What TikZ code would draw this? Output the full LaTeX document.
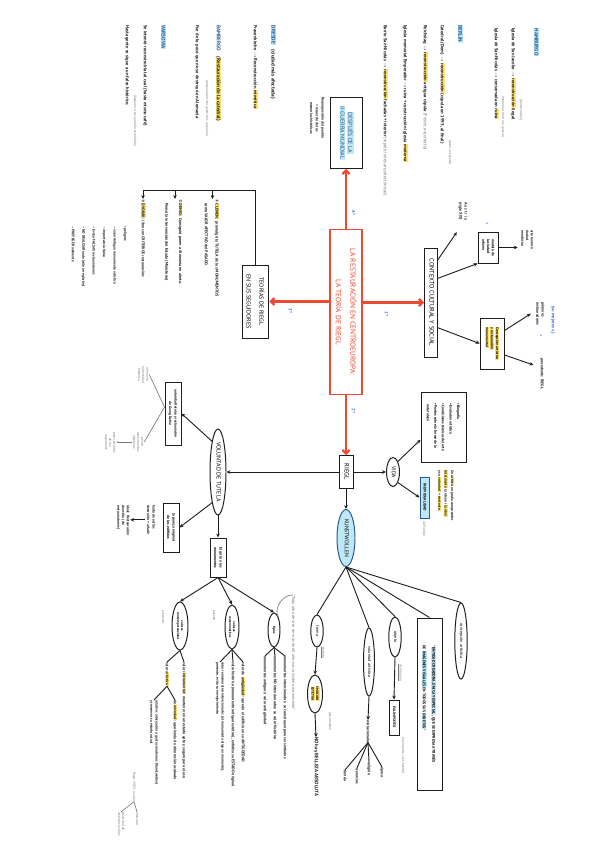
\documentclass[tikz,border=0pt]{standalone}
\usepackage{fontspec}
\setmainfont{PT Sans}
\newfontfamily\djv{DejaVu Sans}
\usepackage{graphicx}
\usetikzlibrary{arrows.meta,shapes.geometric,calc}
\definecolor{hlY}{RGB}{255,226,110}
\definecolor{hlC}{RGB}{190,232,246}
\definecolor{redc}{RGB}{236,72,50}
\definecolor{bluec}{RGB}{60,110,230}
\definecolor{ttl}{RGB}{40,90,150}
\definecolor{ink}{RGB}{30,30,30}
\definecolor{gry}{RGB}{120,120,120}
\newcommand\RT[2][l]{\rotatebox{-90}{\begin{tabular}{@{}#1@{}}#2\end{tabular}}}
\newcommand\hly[1]{{\setlength\fboxsep{0.5pt}\colorbox{hlY}{#1}}}
\newcommand\hlc[1]{{\setlength\fboxsep{0.8pt}\colorbox{hlC}{#1}}}
\newcommand\toa{\ensuremath{\rightarrow}}
\renewcommand\arraystretch{0.9}
\begin{document}
\begin{tikzpicture}[x=0.05cm, y=-0.05cm,
  tx/.style={inner sep=0pt, font=\fontsize{6.6}{8}\selectfont\bfseries, text=ink},
  sm/.style={inner sep=0pt, font=\fontsize{5.6}{8}\selectfont\bfseries, text=ink},
  nt/.style={inner sep=0pt, font=\fontsize{5}{6.5}\selectfont, text=gry},
  cityt/.style={inner sep=0pt, font=\fontsize{7.5}{9}\selectfont\bfseries, text=ttl},
  bx/.style={draw=ink, line width=1.4pt, inner sep=1pt},
  el/.style={ellipse, draw=ink, line width=1.4pt, inner sep=0.5pt},
  ar/.style={draw=ink, line width=1.3pt, -{Stealth[length=5.5pt,width=5pt]}},
  ln/.style={draw=ink, line width=1.3pt},
  gl/.style={draw=gry, line width=0.9pt},
  ra/.style={draw=redc, line width=3.2pt, -{Straight Barb[length=5pt,width=10pt]}},
  num/.style={inner sep=0pt, font=\fontsize{6.5}{8}\selectfont\bfseries, text=bluec}]
\path[use as bounding box, fill=white] (0,0) rectangle (600,848);

% ---------- top right: cities ----------
\node[cityt, anchor=north] (hamb) at (536,28) {\RT{\hlc{HAMBURGO}}};
\node[tx, anchor=north] (h1) at (513,28) {\RT{Iglesia de San Jacobo \toa{} \hly{reconstrucción} ilegal}};
\node[nt, anchor=north] (h1n) at (521,99) {\RT{(conservación)}};
\node[tx, anchor=north] (h2) at (496,28) {\RT{Iglesia de San Nicolás \toa{} conservada en \hly{ruina}}};
\node[nt, anchor=north] (h2n) at (503,96) {\RT{(memorial contra la guerra)}};
\node[cityt, anchor=north] (berl) at (460,25) {\RT{\hlc{BERLÍN}}};
\node[tx, anchor=north] (b1) at (442,25) {\RT{Catedral (Dom) \toa{} \hly{reconstrucción} (cúpula en 1993, al final)}};
\node[nt, anchor=north] (b1n) at (450,140) {\RT{(antes, arrasada)}};
\node[tx, anchor=north] (b2) at (425,25) {\RT{Reichstag \toa{} \hly{reconstrucción} antigua cúpula \textcolor{gry}{\mdseries(Foster, arquitecto)}}};
\node[tx, anchor=north] (b3) at (405,25) {\RT{Iglesia memorial Emperador \toa{} ruina + construcción iglesia \hly{moderna}}};
\node[tx, anchor=north] (b4) at (385,25) {\RT{Barrio San Nicolás \toa{} \hly{reconstrucción} fachadas + interior \textcolor{gry}{\mdseries(repeticiones arquitectónicas)}}};

% ---------- DESPUES box ----------
\node[bx, minimum width=1.6cm, minimum height=3.55cm, text=ttl, font=\fontsize{8.5}{12}\selectfont] (desp) at (346,133) {\RT[c]{\hlc{DESPUÉS DE LA}\\\hlc{II GUERRA MUNDIAL}}};
\node[sm, anchor=north, font=\fontsize{5.3}{9}\selectfont\bfseries] (despn) at (317,97) {\RT[c]{Recomposición del pueblo\\+ recuerdo de los\\memorias históricas}};

% ---------- left top: cities ----------
\node[cityt, anchor=north] (dres) at (273,25) {\RT{\hlc{DRESDE}\quad\textcolor{ink}{(ciudad más afectada)}}};
\node[tx, anchor=north] (d1) at (255,25) {\RT{Frauenkirche \toa{} Reconstrucción \hly{mimética}}};
\node[cityt, anchor=north] (bamb) at (218,25) {\RT{BAMBERGO\quad\textcolor{ink}{(\hly{Restauración de la catedral})}}};
\node[nt, anchor=north] (bambn) at (207,80) {\RT{(restauración del gusto tras la guerra)}};
\node[tx, anchor=north] (bm1) at (197,25) {\RT{Fue de lo poco que no se destruyó en Alemania}};
\node[cityt, anchor=north] (vars) at (163,25) {\RT{\hlc{VARSOVIA}}};
\node[tx, anchor=north] (v1) at (145,25) {\RT{Se intentó reconstruirla tal cual (hasta mismo café)}};
\node[nt, anchor=north] (v1n) at (135,95) {\RT{(llegaron a ser pueblo reconocido)}};
\node[tx, anchor=north] (v2) at (127,25) {\RT{Hasta gente se sigue a un falso histórico.}};

% ---------- centre ----------
\node[draw=redc, line width=1.5pt, minimum width=1.6cm, minimum height=8.25cm, inner sep=2pt, text=redc, font=\fontsize{10.5}{23}\selectfont] (cen) at (346,312) {\RT[c]{LA RESTAURACIÓN EN CENTROEUROPA:\\LA TEORÍA DE RIEGL}};

\node[bx, minimum width=0.65cm, minimum height=5.45cm, font=\fontsize{9}{10}\selectfont] (ctx) at (431,302.5) {\RT{CONTEXTO CULTURAL Y SOCIAL}};
\node[bx, minimum width=1.25cm, minimum height=3.65cm, font=\fontsize{8.5}{20}\selectfont] (teo) at (255.5,301.5) {\RT[c]{TEORÍAS DE RIEGL\\EN SUS SEGUIDORES}};
\node[bx, minimum width=0.7cm, minimum height=1.65cm, font=\fontsize{9}{10}\selectfont] (riegl) at (346,472) {\RT{RIEGL}};

\draw[ra] (cen.north) -- (cen.north |- desp.south);
\draw[ra] (ctx.west -| cen.east) -- (ctx.west);
\draw[ra] (cen.south) -- (riegl.north);
\draw[ra] (teo.east -| cen.west) -- (teo.east);
\node[num] (n4) at (353,213) {\RT{4°}};
\node[num] (n1) at (386,314) {\RT{1°}};
\node[num] (n2) at (353,411) {\RT{2°}};
\node[num] (n3) at (290,311) {\RT{3°}};

% ---------- CONTEXTO branches ----------
\node[sm, anchor=north] (aus) at (463,202) {\RT{A u s t r i a\\(siglo XIX)}};
\draw[ar] ($(ctx.north east)!0.11!(ctx.south east)$) -- ($(aus.south west)+(-1,12)$);
\node[bx, minimum width=1.0cm, minimum height=1.55cm, font=\fontsize{5.3}{7.5}\selectfont\bfseries] (mb) at (488,247.5) {\RT{modelo de\\la ciudad\\urbana}};
\draw[ar] ($(ctx.north east)!0.28!(ctx.south east)$) -- (mb.south west);
\node[num, font=\fontsize{9}{9}\selectfont] (st1) at (487,225) {*};
\node[sm, anchor=north, font=\fontsize{5.3}{7.5}\selectfont\bfseries] (mbt) at (527,230) {\RT{arte barroco\\ciudad\\neoclásica}};
\draw[ar] (mb.east) -- ($(mb.east -| mbt.west)+(-2,0)$);
\node[bx, minimum width=1.2cm, minimum height=2.55cm, font=\fontsize{5.3}{8}\selectfont\bfseries] (concb) at (492,343.5) {\RT{\hly{Concepción artística}\\\hly{y restauración}\\\hly{monumental}}};
\draw[ar] ($(ctx.north east)!0.73!(ctx.south east)$) -- (concb.west);
\node[sm, anchor=north] (prim) at (540,302) {\RT{primeros\\restauradores}};
\node[num, anchor=north] (su) at (553,306) {\RT{(su mejores s.)}};
\node[num, font=\fontsize{9}{9}\selectfont] (st2) at (541,337) {*};
\draw[ar] ($(concb.north east)!0.25!(concb.south east)$) -- ($(prim.west)+(-4,0)$);
\node[sm, anchor=north] (prec) at (542,358) {\RT{precedente: RIEGL}};
\draw[ar] ($(concb.north east)!0.72!(concb.south east)$) -- ($(prec.north west)+(-6,7)$);

% ---------- VIDA ----------
\node[el, minimum width=0.65cm, minimum height=1.45cm, font=\fontsize{8}{9}\selectfont] (vida) at (393,472) {\RT{VIDA}};
\draw[ar] (riegl.east) -- (riegl.east -| vida.west);
\node[bx, minimum width=2.25cm, minimum height=3.5cm, font=\fontsize{5.2}{12}\selectfont\bfseries] (listb) at (443.5,427) {\RT{• Biografía\\• Evolución artística\\• Condiciones técnicas del arte\\• Puntos sobre la forma de la\\\ \ naturaleza}};
\draw[ar] (vida.north east) -- ($(listb.north west)!0.68!(listb.south west)$);
\node[draw=ttl, fill=hlC, line width=1.3pt, inner sep=1pt, minimum width=0.45cm, minimum height=2.05cm, font=\fontsize{5.3}{6}\selectfont\bfseries] (indiv) at (424.5,497.5) {\RT{INDIVIDUALIDAD}};
\draw[ar] (vida.south east) -- (indiv.west);
\node[nt, anchor=north] (fied) at (424,521) {\RT{de Fiedler}};
\node[sm, anchor=north, font=\fontsize{5.3}{10.2}\selectfont\bfseries] (indt) at (446,470) {\RT{Un \hly{artista} no podía comprender\\\hly{totalmente} la idea ni \hly{la obra}\\y su \hly{voluntad} + \hly{contexto}.}};

% ---------- KUNSTWOLLEN ----------
\node[el, fill=hlC, draw=ttl, minimum width=0.9cm, minimum height=2.85cm, font=\fontsize{8}{9}\selectfont] (kw) at (346,538) {\RT{KUNSTWOLLEN}};
\draw[ar] (riegl.south) -- (kw.north);
\node[el, minimum width=0.62cm, minimum height=1.6cm, font=\fontsize{6}{7}\selectfont] (forma) at (317,631) {\RT{forma}};
\node[el, minimum width=0.55cm, minimum height=3.4cm, font=\fontsize{6}{7}\selectfont] (vart) at (369,662) {\RT{voluntad artística}};
\node[el, minimum width=0.62cm, minimum height=2cm, font=\fontsize{6}{7}\selectfont] (obj) at (395,637) {\RT{objeto}};
\node[bx, minimum width=1.25cm, minimum height=8.6cm, font=\fontsize{5.5}{15}\selectfont\bfseries] (quote) at (429.5,704) {\RT{“\hlc{ENTIDAD CREADORA, ÚNICA Y ESPECIAL}, QUE SE EXPRESA A TRAVÉS\\DE \hlc{IMÁGENES VISUALES} EN TODOS SUS \hlc{OBJETOS}”}};
\node[el, minimum width=0.62cm, minimum height=3.8cm, font=\fontsize{6}{7}\selectfont] (cart) at (461,641) {\RT{concepción artística}};
\foreach \t in {forma,vart,obj,quote,cart} \draw[ln] (kw.south) -- (\t.north);

\node[el, minimum width=0.75cm, minimum height=1.9cm, font=\fontsize{4.8}{6.5}\selectfont\bfseries] (emo) at (315,694) {\RT[c]{\hly{EMOCIÓN}\\\hly{ESTÉTICA}}};
\draw[ar] (forma.south) -- (emo.north);
\node[nt, anchor=north] (sent) at (323,647) {\RT{\underline{sentido}}};
\node[inner sep=0pt, text=ink, font=\fontsize{7}{8}\selectfont\bfseries, anchor=north] (nobel) at (316,737) {\RT{NO hay BELLEZA ABSOLUTA}};
\draw[ar] (emo.south) -- (nobel.north);
\node[nt, anchor=north] (obs) at (330,712) {\RT{(observador)}};
\node[nt, anchor=north, font=\fontsize{6}{7}\selectfont] (sesenta) at (293,595) {\RT{“Toda obra de arte de más de 60 años se considera monumento”}};

\node[sm, anchor=north] (evol) at (368,720) {\RT{evolucionada}};
\draw[ar] (vart.south) -- (evol.north);
\node[sm, anchor=north] (epoca) at (382,767) {\RT{época}};
\node[sm, anchor=north] (relig) at (369,762) {\RT{religión}};
\node[sm, anchor=north] (creen) at (357,768) {\RT{creencias}};
\node[sm, anchor=north] (cienc) at (345,770) {\RT{ciencia}};
\foreach \t in {epoca,relig,creen,cienc} \draw[ln] (evol.south) -- (\t.north);

\node[bx, minimum width=0.5cm, minimum height=1.75cm, font=\fontsize{5}{6}\selectfont\bfseries] (pal) at (394,717.5) {\RT{PALIMPSESTO}};
\draw[ar] (obj.south) -- (pal.north);
\node[nt, anchor=north] (objn) at (400,664) {\RT{\underline{visible para}}};
\node[nt, anchor=north] (objn2) at (403,737) {\RT{(no importa si es bonito)}};

% ---------- VOLUNTAD DE TUTELA ----------
\node[el, minimum width=0.8cm, minimum height=4.3cm, font=\fontsize{8.5}{10}\selectfont] (vol) at (218,472) {\RT{VOLUNTAD DE TUTELA}};
\draw[ar] (riegl.west) -- (riegl.west -| vol.east);
\node[bx, minimum width=0.8cm, minimum height=3.15cm, font=\fontsize{5}{9}\selectfont\bfseries] (aut) at (173,413.5) {\RT[c]{autoridad técnica y restauración\\de Georg Dehio}};
\draw[ar] (vol.north west) -- (aut.east);
\node[nt, anchor=north] (autn1) at (143,366) {\RT[c]{memoria\\e identidad\\histórica}};
\node[nt, anchor=north] (autn2) at (138,432) {\RT[c]{pensó\\monumentos\\objetivos}};
\node[nt, anchor=north] (autn3) at (110,432) {\RT[c]{para salvarlos\\de los\\regímenes}};
\draw[gl] ($(aut.north west)!0.4!(aut.south west)$) -- (autn1.east);
\draw[gl] ($(aut.north west)!0.4!(aut.south west)$) -- (autn2.east);
\draw[gl, -{Stealth[length=3pt]}] (autn2.west) -- (autn2.west -| autn3.east);

\node[bx, minimum width=0.8cm, minimum height=2.45cm, font=\fontsize{5.3}{9}\selectfont\bfseries] (pur) at (171,527.5) {\RT[c]{la pureza original\\de los edificios}};
\draw[ar] (vol.south west) -- (pur.east);
\node[sm, anchor=north, font=\fontsize{5.3}{9}\selectfont\bfseries] (purt) at (151,505) {\RT{hasta de estilo:\\destruirlo + añadir}};
\node[sm, anchor=north, font=\fontsize{5.3}{7.5}\selectfont\bfseries] (purt2) at (123,505) {\RT{ideal: Restauración\\de estilo (de\\restauraciones)}};
\draw[ar] (purt.west) -- (purt.west -| purt2.east);

\node[bx, minimum width=0.8cm, minimum height=1.95cm, font=\fontsize{5.3}{9}\selectfont\bfseries] (culto) at (218,557.5) {\RT[c]{El culto a los\\monumentos}};
\draw[ar] (vol.south) -- (culto.north);

\node[el, minimum width=0.8cm, minimum height=2.4cm, font=\fontsize{4.8}{6.5}\selectfont\bfseries] (vcon) at (180,626) {\RT[c]{valores\\contemporaneidad}};
\node[el, minimum width=0.7cm, minimum height=2.2cm, font=\fontsize{4.8}{6.5}\selectfont\bfseries] (vrem) at (232,627) {\RT[c]{valores\\rememorativos}};
\node[el, minimum width=0.6cm, minimum height=1.7cm, font=\fontsize{5}{6}\selectfont\bfseries] (tipos) at (274,630) {\RT{tipos}};
\draw[ar] (culto.south) -- (vcon.north);
\draw[ar] (culto.south) -- (vrem.north);
\draw[ar] (culto.south) -- (tipos.north);
\node[nt, anchor=north] (pres) at (163,610) {\RT{presente}};
\node[nt, anchor=north] (pas) at (214,610) {\RT{pasado}};
\draw[gl, -{Stealth[length=3pt]}] (sesenta.north) to[bend right=60] (tipos.north east);

\node[sm, anchor=north] (vc1) at (184,662) {\RT{valor \hly{instrumental}: mantener en un estado apto y seguro para el uso}};
\node[sm, anchor=north] (vc2) at (167,662) {\RT{valor \hly{artístico}}};
\draw[ln] (vcon.south) -- (vc1.north);
\draw[ln] (vcon.south) -- (vc2.north);
\node[sm, anchor=north] (vc21) at (175,700) {\RT{de \hly{novedad}: apariencia de obra recién acabada}};
\node[sm, anchor=north, font=\fontsize{5.2}{8}\selectfont\bfseries] (vc22) at (154,700) {\RT{relativo: adecuación a gustos modernos (Kunstwollen)\\y conservar su estado actual}};
\draw[ln] (vc2.south) -- (vc21.north);
\draw[ln] (vc2.south) -- (vc22.north);
\node[nt, anchor=north] (kr) at (134,772) {\RT{Riegl: 1903, a valor}};
\node[nt, anchor=north] (mer) at (137,812) {\RT{mercado}};
\node[nt, anchor=north] (exa) at (121,812) {\RT{exactitud de\\distintos estilos}};
\draw[gl] (kr.south) -- (mer.north);
\draw[gl] (kr.south) -- (exa.north);

\node[sm, anchor=north] (vr1) at (243,662) {\RT{valor de \hly{antigüedad}: aprecio el edificio en su ANTIGÜEDAD}};
\node[sm, anchor=north] (vr2) at (233,662) {\RT{valor histórico (monumento antiguo estético), enfatiza su ESTADO original}};
\node[sm, anchor=north, font=\fontsize{5.2}{8}\selectfont\bfseries] (vr3) at (220,662) {\RT{valor rememorativo intencionado: (el monumento elige un momento),\\presente, evita su envejecimiento}};
\draw[ln] (vrem.south) -- (vr1.north);
\draw[ln] (vrem.south) -- (vr2.north);
\draw[ln] (vrem.south) -- (vr3.north);

\node[sm, anchor=north] (tp1) at (285,656) {\RT{monumentos intencionados: se construyen para ser símbolos}};
\node[sm, anchor=north] (tp2) at (275,656) {\RT{monumentos NO intencionados: su valor histórico}};
\node[sm, anchor=north] (tp3) at (265,656) {\RT{monumentos antiguos: valor antigüedad}};
\draw[ln] (tipos.south) -- (tp1.north);
\draw[ln] (tipos.south) -- (tp2.north);
\draw[ln] (tipos.south) -- (tp3.north);

% ---------- TEORIAS followers ----------
\coordinate (brk) at ($(teo.north)+(0,-74)$);
\node[sm, anchor=north, font=\fontsize{5.8}{17}\selectfont\bfseries] (it1) at (212.5,199) {\RT{{\djv ①} \hly{CLEMEN}: promulgó la TUTELA de los MONUMENTOS\\\quad como VALOR AFECTIVO del PASADO.}};
\node[sm, anchor=north, font=\fontsize{5.8}{22}\selectfont\bfseries] (it2) at (175,199) {\RT{{\djv ②} \hly{DEHIO}: Consiguió poner a Alemania en alerta.\\\quad Pensó la intervención del Estado (Ministerio)}};
\node[sm, anchor=north] (it3) at (143,199) {\RT{{\djv ③} \hly{DVORÁK}: libro con CRITERIOS restauración:}};
\node[sm, anchor=north, font=\fontsize{5.2}{16.5}\selectfont\bfseries] (it3l) at (100,226) {\RT{• peligros\\– valor Antiguo monumento artístico\\– importancia típica\\– Evitar FALSAS restauraciones\\– NO REALIZAR nada (sólo arreglarlos)\\– PROTEGER ambiente}};
\draw[ln] (teo.north) -- (brk) -- (brk -| it3.north);
\draw[ar] (brk -| it1.north) -- (it1.north);
\draw[ar] (brk -| it2.north) -- (it2.north);
\draw[ar] (brk -| it3.north) -- (it3.north);
\end{tikzpicture}
\end{document}
